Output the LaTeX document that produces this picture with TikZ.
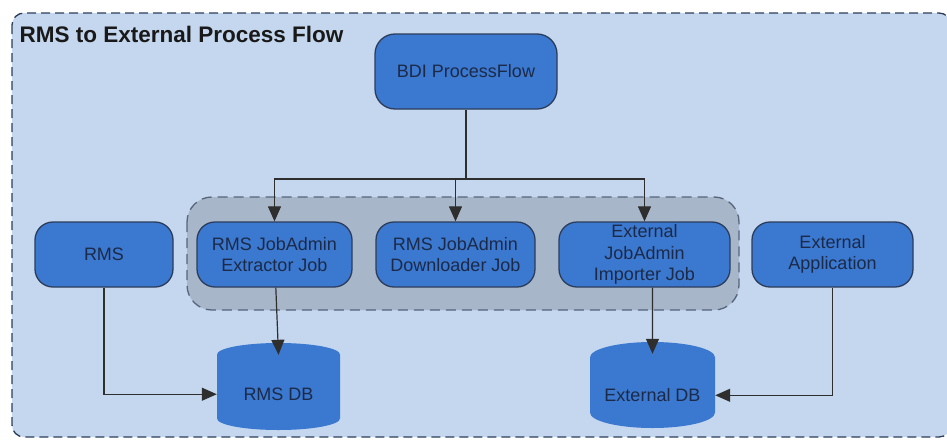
\documentclass[tikz,border=0pt]{standalone}
\usepackage{fontspec}
\setmainfont{Liberation Sans}
\usetikzlibrary{shapes.geometric,arrows.meta}
\definecolor{panel}{HTML}{C4D7EE}
\definecolor{jobgroup}{HTML}{A8B6CA}
\definecolor{boxblue}{HTML}{3B78CF}
\definecolor{boxline}{HTML}{2C3D5B}
\definecolor{boxtext}{HTML}{1C2A48}
\definecolor{wire}{HTML}{2E2E2E}

\begin{document}
\begin{tikzpicture}[x=1pt, y=-1pt,
    proc/.style={draw=boxline, line width=1.3pt, fill=boxblue, rounded corners=18pt,
        minimum height=65pt, text=boxtext, align=center, inner sep=2pt,
        font=\fontsize{18}{21.5}\selectfont},
    store/.style={cylinder, shape border rotate=90, aspect=0.3, fill=boxblue, draw=none,
        minimum width=123pt, minimum height=87pt, text=boxtext,
        font=\fontsize{18}{21.5}\selectfont},
    flow/.style={draw=wire, line width=1.2pt, -{Triangle[length=15pt,width=13pt]}}]
    \useasboundingbox (0,0) rectangle (947,439);

    \draw[fill=panel, draw=boxline, line width=1.3pt, dash pattern=on 9pt off 5pt, rounded corners=12pt] (12,13) rectangle (951,437);
    \node[anchor=west, font=\fontsize{22.5}{26}\selectfont\bfseries, text=black!90] (title) at (16,34) {RMS to External Process Flow};

    \draw[fill=jobgroup, draw=boxline!80, line width=1.3pt, dash pattern=on 10pt off 6pt, rounded corners=25pt] (187,197) rectangle (739,310);

    \node[proc, minimum width=182pt, minimum height=75pt, rounded corners=20pt] (bdi) at (466,71.5) {BDI ProcessFlow};

    \node[proc, minimum width=138pt] (rms) at (104,254.5) {RMS};
    \node[proc, minimum width=155pt] (extr) at (274.5,254.5) {RMS JobAdmin\\Extractor Job};
    \node[proc, minimum width=159pt] (down) at (455.5,254.5) {RMS JobAdmin\\Downloader Job};
    \node[proc, minimum width=171pt] (imp) at (644.5,254.5) {External\\JobAdmin\\Importer Job};
    \node[proc, minimum width=161pt] (extapp) at (832.5,254.5) {External\\Application};

    \node[store, anchor=shape center] (rmsdb) at (278.5,386.5) {RMS DB};
    \node[store, anchor=shape center, minimum width=125pt, minimum height=86pt] (extdb) at (652.5,385) {External DB};

    \coordinate (fork) at (466,179);
    \draw[wire, line width=1.2pt] (bdi) -- (fork);
    \draw[flow] (fork) -| (extr);
    \draw[flow] (fork) -| (down);
    \draw[flow] (fork) -| (imp);

    \draw[flow] (extr) -- ([yshift=-12pt]rmsdb.north);
    \draw[flow] (imp.south -| extdb) -- ([yshift=-12pt]extdb.north);
    \draw[flow] (rms) |- (rmsdb.west);
    \draw[flow] (extapp) |- (extdb.east);
\end{tikzpicture}
\end{document}
